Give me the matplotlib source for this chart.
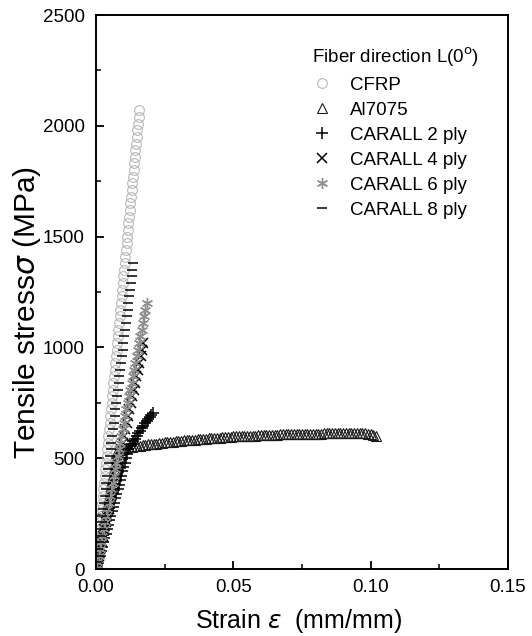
import matplotlib.pyplot as plt
from matplotlib.ticker import MultipleLocator

plt.rcParams['font.family'] = ['Liberation Sans', 'DejaVu Sans']
plt.rcParams['mathtext.fontset'] = 'dejavusans'

# CFRP
cfrp_stress = [0, 30, 60, 90, 120, 150, 180, 210, 240, 270, 300, 330, 360, 390, 420, 450, 480,
               510, 540, 570, 600, 630, 660, 690, 720, 750, 780, 810, 840, 870, 900, 930, 960,
               990, 1020, 1050, 1080, 1110, 1140, 1170, 1200, 1230, 1260, 1290, 1320, 1350,
               1380, 1410, 1440, 1470, 1500, 1530, 1560, 1590, 1620, 1650, 1680, 1710, 1740,
               1770, 1800, 1830, 1860, 1890, 1920, 1950, 1980, 2010, 2040, 2070]
cfrp_strain = [0, 0.00023, 0.00046, 0.00068, 0.00091, 0.00114, 0.00137, 0.00159, 0.00182,
               0.00205, 0.00228, 0.00250, 0.00273, 0.00296, 0.00319, 0.00341, 0.00364, 0.00387,
               0.00410, 0.00432, 0.00455, 0.00478, 0.00501, 0.00523, 0.00546, 0.00569, 0.00592,
               0.00615, 0.00637, 0.00660, 0.00683, 0.00706, 0.00728, 0.00751, 0.00774, 0.00797,
               0.00819, 0.00842, 0.00865, 0.00888, 0.00910, 0.00933, 0.00956, 0.00979, 0.01001,
               0.01024, 0.01047, 0.01070, 0.01092, 0.01115, 0.01138, 0.01161, 0.01183, 0.01206,
               0.01229, 0.01252, 0.01274, 0.01297, 0.01320, 0.01343, 0.01366, 0.01388, 0.01411,
               0.01434, 0.01457, 0.01479, 0.01502, 0.01525, 0.01548, 0.01570]

# Al7075
al_strain = [0, 0.00036, 0.00071, 0.00107, 0.00142, 0.00178, 0.00213, 0.00249, 0.00284, 0.00320,
             0.00355, 0.00391, 0.00426, 0.00462, 0.00497, 0.00533, 0.00568, 0.00604, 0.00639,
             0.00675, 0.00710, 0.00746,
             0.008, 0.009, 0.010, 0.011, 0.012, 0.013, 0.014, 0.015, 0.016, 0.017, 0.018,
             0.019, 0.020, 0.021, 0.022, 0.023, 0.024, 0.025, 0.026, 0.027, 0.028, 0.029,
             0.030, 0.031, 0.032, 0.033, 0.034, 0.035, 0.036, 0.037, 0.038, 0.039, 0.040,
             0.041, 0.042, 0.043, 0.044, 0.045, 0.046, 0.047, 0.048, 0.049, 0.050, 0.051,
             0.052, 0.053, 0.054, 0.055, 0.056, 0.057, 0.058, 0.059, 0.060, 0.061, 0.062,
             0.063, 0.064, 0.065, 0.066, 0.067, 0.068, 0.069, 0.070, 0.071, 0.072, 0.073,
             0.074, 0.075, 0.076, 0.077, 0.078, 0.079, 0.080, 0.081, 0.082, 0.083, 0.084,
             0.085, 0.086, 0.087, 0.088, 0.089, 0.090, 0.091, 0.092, 0.093, 0.094, 0.095,
             0.096, 0.097, 0.098, 0.099, 0.100, 0.101, 0.102]
al_stress = [0, 25, 50, 75, 100, 125, 150, 175, 200, 225, 250, 275, 300, 325, 350, 375, 400,
             425, 450, 475, 500, 525,
             530, 538, 545, 548, 550, 552, 554, 556, 557, 559, 560, 562, 563, 565, 566, 568,
             569, 571, 572, 574, 575, 576, 577, 579, 580, 581, 582, 583, 584, 585, 586, 587,
             588, 589, 590, 591, 592, 593, 594, 595, 596, 597, 598, 598, 599, 600, 600, 601,
             601, 602, 602, 603, 603, 604, 604, 605, 605, 606, 606, 607, 607, 608, 608, 608,
             609, 609, 609, 610, 610, 610, 610, 611, 611, 611, 611, 612, 612, 612, 612, 612,
             612, 613, 613, 613, 613, 613, 613, 613, 613, 613, 612, 611, 610, 606, 598]

# CARALL 2 ply
c2_strain = [0, 0.00043, 0.00087, 0.00130, 0.00174, 0.00217, 0.00261, 0.00304, 0.00348,
             0.00391, 0.00435, 0.00478, 0.00522, 0.00565, 0.00609, 0.00652, 0.00696, 0.00739,
             0.00783, 0.00826, 0.00870, 0.00913, 0.00957, 0.01000, 0.01044, 0.01087, 0.01131,
             0.0118, 0.0124, 0.0130, 0.0136, 0.0142, 0.0148, 0.0154, 0.0160, 0.0166, 0.0172,
             0.0178, 0.0184, 0.0190, 0.0196, 0.0202, 0.0209]
c2_stress = [0, 20, 40, 60, 80, 100, 120, 140, 160, 180, 200, 220, 240, 260, 280, 300, 320,
             340, 360, 380, 400, 420, 440, 460, 480, 500, 520,
             540, 553, 565, 577, 588, 600, 612, 624, 636, 647, 658, 668, 678, 687, 695, 704]

# CARALL 4 ply
c4_strain = [0, 0.00051, 0.00102, 0.00152, 0.00203, 0.00254, 0.00305, 0.00356, 0.00406,
             0.00457, 0.00508, 0.00559, 0.00610, 0.00660, 0.00711, 0.00762, 0.00813, 0.00864,
             0.00914, 0.00965, 0.01016, 0.01067, 0.01118, 0.01168, 0.01219, 0.01270, 0.01321,
             0.01372, 0.01422, 0.01473, 0.01524, 0.01575, 0.01626, 0.01676, 0.01727]
c4_stress = [0, 30, 60, 90, 120, 150, 180, 210, 240, 270, 300, 330, 360, 390, 420, 450, 480,
             510, 540, 570, 600, 630, 660, 690, 720, 750, 780, 810, 840, 870, 900, 930, 960,
             990, 1020]

# CARALL 6 ply
c6_strain = [0, 0.00046, 0.00092, 0.00139, 0.00185, 0.00231, 0.00277, 0.00323, 0.00370,
             0.00416, 0.00462, 0.00508, 0.00554, 0.00601, 0.00647, 0.00693, 0.00739, 0.00785,
             0.00832, 0.00878, 0.00924, 0.00970, 0.01016, 0.01063, 0.01109, 0.01155, 0.01201,
             0.01247, 0.01294, 0.01340, 0.01386, 0.01432, 0.01478, 0.01525, 0.01571, 0.01617,
             0.01663, 0.01709, 0.01756, 0.01802, 0.01848]
c6_stress = [0, 30, 60, 90, 120, 150, 180, 210, 240, 270, 300, 330, 360, 390, 420, 450, 480,
             510, 540, 570, 600, 630, 660, 690, 720, 750, 780, 810, 840, 870, 900, 930, 960,
             990, 1020, 1050, 1080, 1110, 1140, 1170, 1200]

# CARALL 8 ply
c8_strain = [0, 0.00029, 0.00059, 0.00088, 0.00118, 0.00147, 0.00176, 0.00206, 0.00235,
             0.00265, 0.00294, 0.00323, 0.00353, 0.00382, 0.00412, 0.00441, 0.00470, 0.00500,
             0.00529, 0.00559, 0.00588, 0.00617, 0.00647, 0.00676, 0.00706, 0.00735, 0.00764,
             0.00794, 0.00823, 0.00853, 0.00882, 0.00911, 0.00941, 0.00970, 0.01000, 0.01029,
             0.01058, 0.01088, 0.01117, 0.01147, 0.01176, 0.01205, 0.01235, 0.01264, 0.01294,
             0.01323, 0.01352]
c8_stress = [0, 30, 60, 90, 120, 150, 180, 210, 240, 270, 300, 330, 360, 390, 420, 450, 480,
             510, 540, 570, 600, 630, 660, 690, 720, 750, 780, 810, 840, 870, 900, 930, 960,
             990, 1020, 1050, 1080, 1110, 1140, 1170, 1200, 1230, 1260, 1290, 1320, 1350, 1380]

W, H = 532, 636
fig = plt.figure(figsize=(W / 100, H / 100), dpi=100)
ax = fig.add_axes([96 / W, 1 - 569 / H, 412 / W, 554 / H])

ax.plot(cfrp_strain, cfrp_stress, ls='none', marker='o', ms=7, mfc='none', mec='#b8b8b8',
        mew=0.8, label='CFRP')
ax.plot(al_strain, al_stress, ls='none', marker='^', ms=7.5, mfc='none', mec='#1a1a1a',
        mew=0.8, label='Al7075')
ax.plot(c2_strain, c2_stress, ls='none', marker='+', ms=8.5, mec='black', mew=1.1,
        label='CARALL 2 ply')
ax.plot(c4_strain, c4_stress, ls='none', marker='x', ms=7.5, mec='black', mew=1.1,
        label='CARALL 4 ply')
ax.plot(c6_strain, c6_stress, ls='none', marker=(6, 2, 0), ms=8, mec='#8f8f8f', mew=1.0,
        label='CARALL 6 ply')
ax.plot(c8_strain, c8_stress, ls='none', marker='_', ms=7.5, mec='black', mew=1.1,
        label='CARALL 8 ply')

ax.set_xlim(0, 0.15)
ax.set_ylim(0, 2500)
ax.set_xticks([0, 0.05, 0.10, 0.15])
ax.set_xticklabels(['0.00', '0.05', '0.10', '0.15'])
ax.xaxis.set_minor_locator(MultipleLocator(0.025))
ax.yaxis.set_major_locator(MultipleLocator(500))
ax.yaxis.set_minor_locator(MultipleLocator(250))
ax.tick_params(which='both', direction='in', top=False, right=False, labelsize=13.5)
ax.tick_params(axis='x', which='major', pad=7.5)
ax.tick_params(axis='y', which='major', pad=8)
ax.tick_params(which='major', length=6, width=1.3)
ax.tick_params(which='minor', length=3.5, width=1.1)
for s in ax.spines.values():
    s.set_linewidth(1.4)

fig.text(299 / W, 1 - 621 / H, 'Strain $\\varepsilon$  (mm/mm)', fontsize=18,
         ha='center', va='center')
fig.text(27 / W, 1 - 312 / H, 'Tensile stress$\\sigma$ (MPa)', fontsize=21.5,
         ha='center', va='center', rotation=90)

leg = ax.legend(loc='upper left', bbox_to_anchor=(303 / W, 1 - 36 / H),
                bbox_transform=fig.transFigure, frameon=False, borderpad=0,
                title='Fiber direction L(0$^{\\mathrm{o}}$)', fontsize=13.5,
                title_fontsize=13.5, handletextpad=1.0, labelspacing=0.42,
                handlelength=1.0, alignment='left')

fig.savefig('out.png', dpi=100)
